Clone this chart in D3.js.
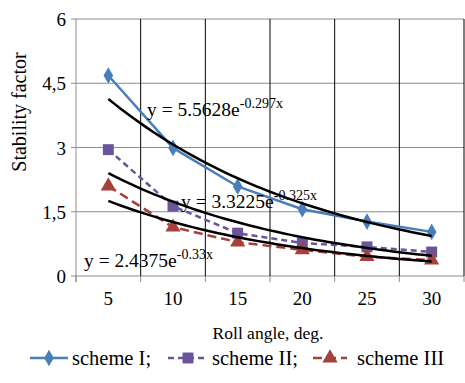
<!DOCTYPE html>
<html>
<head>
<meta charset="utf-8">
<script src="https://cdn.jsdelivr.net/npm/d3@7"></script>
<style>
  body { margin: 0; background: #fff; }
</style>
</head>
<body>
<svg width="465" height="383"></svg>
<script>
var angles = [5, 10, 15, 20, 25, 30]
var schemeI = [4.68, 2.99, 2.09, 1.56, 1.27, 1.03]
var schemeII = [2.95, 1.63, 1.0, 0.77, 0.68, 0.56]
var schemeIII = [2.1, 1.14, 0.79, 0.61, 0.45, 0.37]
var yTicks = [0, 1.5, 3, 4.5, 6]
var trendA = [5.5628, 3.3225, 2.4375]
var trendB = [-0.297, -0.325, -0.33]
var trendText = [["5.5628", "-0.297x"], ["3.3225", "-0.325x"], ["2.4375", "-0.33x"]]
var names = ["scheme I;", "scheme II;", "scheme III"]
var colors = ["#4A7EBB", "#6B559A", "#A5403D"]

var FONT = '"Liberation Serif", "Times New Roman", serif'
var svg = d3.select('svg')
var m = { left: 76, right: 464, top: 19, bottom: 276 }

var x = d3.scaleBand().domain(angles).range([m.left, m.right])
var y = d3.scaleLinear().domain([0, 6]).range([m.bottom, m.top])

// horizontal grid
svg.append('g').selectAll('line')
  .data(yTicks)
  .enter()
  .append('line')
  .attr('x1', m.left - 5).attr('x2', m.right)
  .attr('y1', function(d) { return y(d) }).attr('y2', function(d) { return y(d) })
  .attr('stroke', '#8c8c8c').attr('stroke-width', 1)

// vertical grid at category boundaries
var bounds = angles.slice(1).map(function(d) { return x(d) }).concat([m.right])
svg.append('g').selectAll('line')
  .data(bounds)
  .enter()
  .append('line')
  .attr('x1', function(d) { return d }).attr('x2', function(d) { return d })
  .attr('y1', m.top).attr('y2', m.bottom)
  .attr('stroke', '#000').attr('stroke-width', 1)

// axes
var xAxis = d3.axisBottom(x).tickSize(0).tickPadding(16)
var gx = svg.append('g').attr('transform', 'translate(0,' + m.bottom + ')').call(xAxis)
gx.select('.domain').remove()
gx.selectAll('text').style('font-size', '19px').style('font-family', FONT).attr('fill', '#000')
svg.append('g').selectAll('line')
  .data([m.left].concat(bounds))
  .enter()
  .append('line')
  .attr('x1', function(d) { return d }).attr('x2', function(d) { return d })
  .attr('y1', m.bottom).attr('y2', m.bottom + 6)
  .attr('stroke', '#8c8c8c')
svg.append('line').attr('x1', m.left).attr('x2', m.left).attr('y1', m.top).attr('y2', m.bottom + 6)
  .attr('stroke', '#8c8c8c')

svg.append('g').selectAll('text')
  .data(yTicks)
  .enter()
  .append('text')
  .attr('x', 66)
  .attr('y', function(d) { return y(d) + 7 })
  .attr('text-anchor', 'end')
  .style('font-family', FONT)
  .style('font-size', '19px')
  .text(function(d) { return String(d).replace('.', ',') })

// axis titles
svg.append('text').attr('x', 268).attr('y', 339).attr('text-anchor', 'middle')
  .style('font-family', FONT).style('font-size', '17.5px').text('Roll angle, deg.')
svg.append('text').attr('transform', 'translate(26,112) rotate(-90)').attr('text-anchor', 'middle')
  .style('font-family', FONT).style('font-size', '20px').text('Stability factor')

var series = [schemeI, schemeII, schemeIII]
var cx = function(d, i) { return x(angles[i]) + x.bandwidth() / 2 }
var line = d3.line().x(function(d, i) { return cx(d, i) }).y(function(d) { return y(d) })
var dashes = [null, '6,4', '9,5']
var symbols = [d3.symbolDiamond, d3.symbolSquare, d3.symbolTriangle]
var symSize = [80, 120, 100]

series.forEach(function(s, k) {
  svg.append('path').datum(s).attr('d', line).attr('fill', 'none')
    .attr('stroke', colors[k]).attr('stroke-width', 2.5)
    .attr('stroke-dasharray', dashes[k])
  svg.append('g').selectAll('path')
    .data(s)
    .enter()
    .append('path')
    .attr('d', d3.symbol().type(symbols[k]).size(symSize[k]))
    .attr('transform', function(d, i) { return 'translate(' + cx(d, i) + ',' + y(d) + ')' })
    .attr('fill', colors[k])
})

// exponential trendlines (category index 1..6)
var fine = d3.range(1, 6.001, 0.1)
var tx = d3.scaleLinear().domain([1, 6]).range([cx(0, 0), cx(0, 5)])
trendA.forEach(function(a, k) {
  svg.append('path').datum(fine)
    .attr('d', d3.line().x(function(t) { return tx(t) }).y(function(t) { return y(a * Math.exp(trendB[k] * t)) }))
    .attr('fill', 'none').attr('stroke', '#000').attr('stroke-width', 2.5)
})

// equation labels
var eqPos = [[147, 116], [181, 208], [84, 267]]
trendText.forEach(function(t, k) {
  var tt = svg.append('text').attr('x', eqPos[k][0]).attr('y', eqPos[k][1])
    .style('font-family', FONT).style('font-size', '19.5px')
  tt.append('tspan').text('y = ' + t[0] + 'e')
  tt.append('tspan').attr('dy', -8).style('font-size', '14px').text(t[1])
})

// legend
var legX = [30, 168, 313]
var legW = [38, 40, 34]
var textX = [72, 212, 357]
names.forEach(function(n, k) {
  var g = svg.append('g')
  g.append('line').attr('x1', legX[k]).attr('x2', legX[k] + legW[k]).attr('y1', 358).attr('y2', 358)
    .attr('stroke', colors[k]).attr('stroke-width', 2.5).attr('stroke-dasharray', dashes[k])
  g.append('path').attr('d', d3.symbol().type(symbols[k]).size(symSize[k]))
    .attr('transform', 'translate(' + (legX[k] + legW[k] / 2) + ',358)').attr('fill', colors[k])
  g.append('text').attr('x', textX[k]).attr('y', 365)
    .style('font-family', FONT).style('font-size', '20.5px').text(n)
})
</script>
</body>
</html>
